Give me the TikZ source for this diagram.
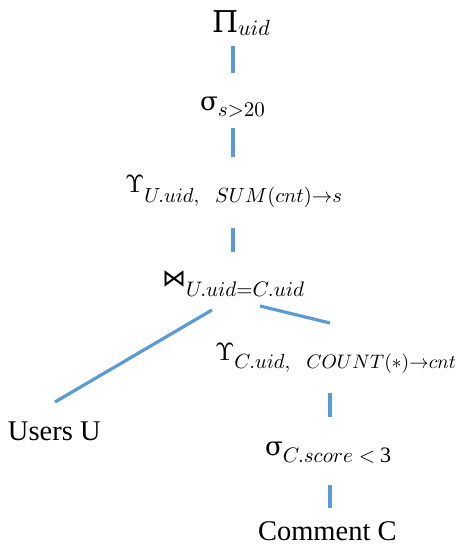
\documentclass[tikz,border=0pt]{standalone}
\usepackage{amsmath}
\usepackage{fontspec}
\setmainfont{Liberation Serif}
\newfontfamily\mf{DejaVu Serif}
\newfontfamily\symf{DejaVu Sans}
\DeclareFontShape{OML}{cmm}{m}{it}{<->cmmi10}{}
\DeclareFontShape{OMS}{cmsy}{m}{n}{<->cmsy10}{}
\DeclareFontShape{OT1}{cmr}{m}{n}{<->cmr10}{}
\DeclareFontShape{OMX}{cmex}{m}{n}{<->cmex10}{}
\definecolor{edgeblue}{HTML}{5B9BD5}
\newcommand{\fs}[1]{\fontsize{#1}{#1}\selectfont}
\tikzset{
  lab/.style={inner sep=0pt, outer sep=0pt, anchor=base west, text=black},
  edge/.style={draw=edgeblue, line width=3.2pt}
}
\begin{document}
\begin{tikzpicture}[x=1pt,y=-1pt]
\useasboundingbox (0,0) rectangle (457,546);
% labels
\node[lab] (pi) at (212,32) {{\mf\fs{30}Π}\raisebox{-3pt}{\fs{22}$uid$}};
\node[lab] (sig1) at (200,110) {{\mf\fs{26}σ}\raisebox{-6pt}{\fs{21}$s{>}20$}};
\node[lab] (ups1) at (125,192) {\fs{25}$\Upsilon$\raisebox{-10pt}{\fs{20.5}$U.uid,$\hspace{16pt}$SUM(cnt){\to}s$}};
\node[lab] (join) at (162,286) {{\symf\fs{24}⋈}\raisebox{-10pt}{\fs{21}$U.uid{=}C.uid$}};
\node[lab] (ups2) at (215,360) {\fs{25}$\Upsilon$\raisebox{-8pt}{\fs{20.5}$C.uid,$\hspace{16pt}\fs{19.5}$COUNT({*}){\to}cnt$}};
\node[lab] (users) at (8,440) {\fs{28.5}Users U};
\node[lab] (sig2) at (265,455) {{\mf\fs{26}σ}\raisebox{-7pt}{\fs{21}$C.score$\hspace{6pt}$<$\hspace{5pt}\fs{22}3}};
\node[lab] (comment) at (258,540) {\fs{28.5}Comment C};
% connector end points
\coordinate (e1a) at (233,46);  \coordinate (e1b) at (233,73);
\coordinate (e2a) at (233,128); \coordinate (e2b) at (233,157);
\coordinate (e3a) at (233,228); \coordinate (e3b) at (233,252);
\coordinate (e4a) at (212,310); \coordinate (e4b) at (55,402);
\coordinate (e5a) at (260,306); \coordinate (e5b) at (330,323);
\coordinate (e6a) at (330,393); \coordinate (e6b) at (330,417);
\coordinate (e7a) at (330,485); \coordinate (e7b) at (330,508);
\draw[edge] (e1a) -- (e1b);
\draw[edge] (e2a) -- (e2b);
\draw[edge] (e3a) -- (e3b);
\draw[edge] (e4a) -- (e4b);
\draw[edge] (e5a) -- (e5b);
\draw[edge] (e6a) -- (e6b);
\draw[edge] (e7a) -- (e7b);
\end{tikzpicture}
\end{document}
